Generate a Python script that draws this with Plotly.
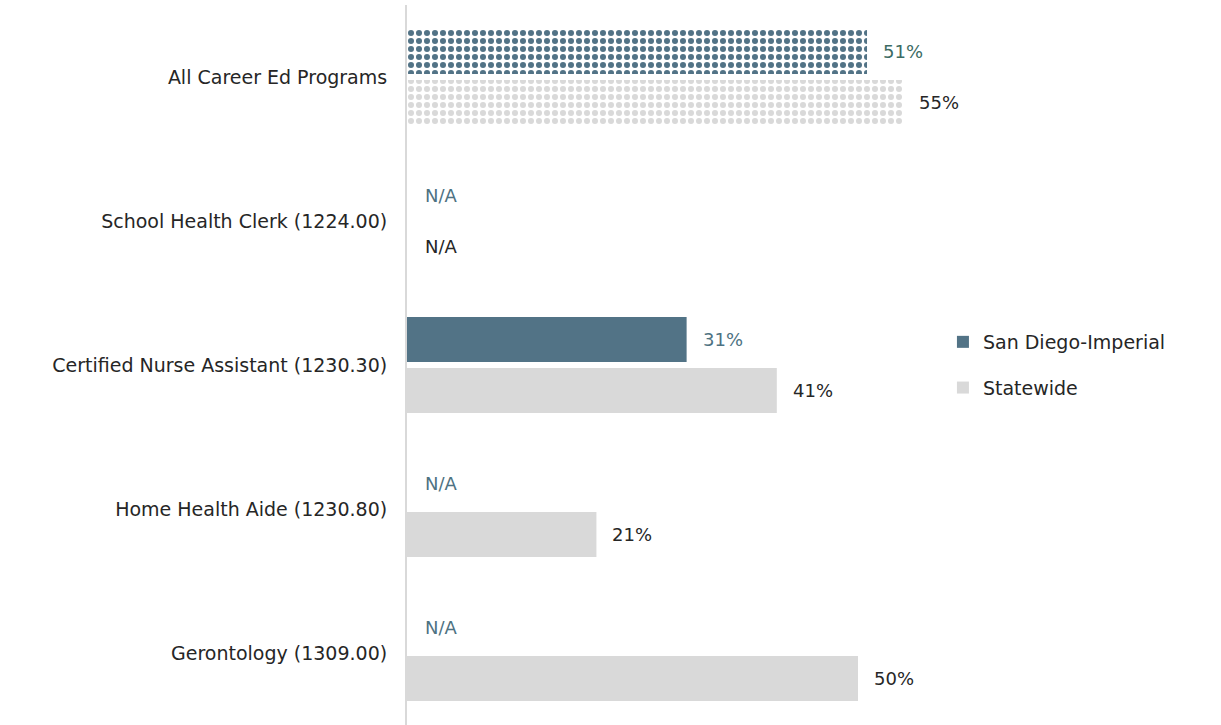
import plotly.graph_objects as go

categories = ["All Career Ed Programs", "School Health Clerk (1224.00)",
              "Certified Nurse Assistant (1230.30)", "Home Health Aide (1230.80)",
              "Gerontology (1309.00)"]
san_diego = [51, None, 31, None, None]
statewide = [55, None, 41, 21, 50]
patterned = [True, False, False, False, False]
series_names = ["San Diego-Imperial", "Statewide"]

SD_COLOR = "#527386"
SW_COLOR = "#D9D9D9"
SD_TEXT = ["#3C6B63", "#4E7282", "#4E7282", "#4E7282", "#4E7282"]
SW_TEXT = "#262626"
FONT = "DejaVu Sans"
FS = 19

# put a non-patterned point first so legend icons are solid
order = [2, 0, 1, 3, 4]
ypos = list(range(len(categories)))

fig = go.Figure()
for name, vals, color, grp in [(series_names[0], san_diego, SD_COLOR, "a"),
                               (series_names[1], statewide, SW_COLOR, "b")]:
    fig.add_trace(go.Bar(
        name=name, orientation="h",
        y=[ypos[i] for i in order],
        x=[vals[i] for i in order],
        legendgroup=grp,
        marker=dict(
            color=color, line=dict(width=0),
            pattern=dict(shape=["." if patterned[i] else "" for i in order],
                         fillmode="replace", bgcolor="white", size=8, solidity=0.45),
        ),
        hoverinfo="skip",
    ))

off = 0.178
annotations = []
for i in range(len(categories)):
    for vals, sign, col in [(san_diego, -1, SD_TEXT[i]), (statewide, 1, SW_TEXT)]:
        v = vals[i]
        annotations.append(dict(
            x=v if v is not None else 0, y=i + sign * off, xref="x", yref="y",
            text=f"{v}%" if v is not None else "N/A",
            showarrow=False, xanchor="left", yanchor="middle",
            xshift=14 if v is not None else 16,
            font=dict(family=FONT, size=18, color=col),
        ))

fig.update_layout(
    width=1221, height=725,
    margin=dict(l=407, r=271, t=5, b=0),
    paper_bgcolor="white", plot_bgcolor="white",
    barmode="group", bargap=0.29, bargroupgap=0.118,
    font=dict(family=FONT, size=FS, color="#262626"),
    xaxis=dict(range=[0, 60.2], visible=False, showgrid=False, zeroline=False),
    yaxis=dict(tickvals=ypos, ticktext=categories, range=[4.5, -0.5],
               showline=True, linecolor="#D9D9D9", linewidth=2, showgrid=False,
               zeroline=False, ticks="", ticklabelstandoff=14,
               tickfont=dict(family=FONT, size=FS, color="#262626")),
    legend=dict(x=0.987, y=0.5, xanchor="left", yanchor="middle",
                tracegroupgap=18, font=dict(family=FONT, size=FS, color="#262626"),
                bgcolor="rgba(0,0,0,0)"),
    annotations=annotations,
)

fig.write_html("out.html")
